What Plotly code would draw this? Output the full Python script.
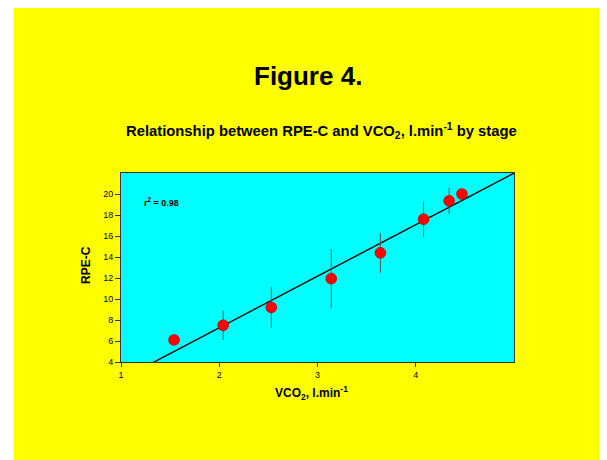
import plotly.graph_objects as go

# Data
vco2 = [1.54, 2.04, 2.53, 3.14, 3.64, 4.08, 4.34, 4.47]
rpe = [6.1, 7.5, 9.2, 11.95, 14.4, 17.6, 19.35, 20.0]
rpe_err = [0.0, 1.4, 1.95, 2.8, 1.9, 1.7, 1.25, 0.0]
slope = 4.91
intercept = -2.56
x_ticks = [1, 2, 3, 4]
y_ticks = [4, 6, 8, 10, 12, 14, 16, 18, 20]
x_range = [1, 5]
y_range = [4, 22]

W, H = 607, 460
# plot-area pixel box within the figure (the page adds an 8px body margin)
L, R, T, B = 113, 506, 165, 354
pw, ph = R - L, B - T

def px(x):
    return (x - L) / pw

def py(y):
    return (B - y) / ph

FONT = "Arial, Liberation Sans, sans-serif"

line_x = x_range
line_y = [slope * v + intercept for v in line_x]

fig = go.Figure()
fig.add_trace(go.Scatter(x=line_x, y=line_y, mode="lines",
                         line=dict(color="black", width=1.4), hoverinfo="skip"))
fig.add_trace(go.Scatter(
    x=vco2, y=rpe, mode="markers",
    marker=dict(size=11, color="#FF0000", line=dict(color="#B00000", width=0.5)),
    error_y=dict(type="data", array=rpe_err, visible=True, color="#555555",
                 thickness=1, width=0),
))

fig.update_layout(
    width=W, height=H,
    margin=dict(l=L, r=W - R, t=T, b=H - B),
    paper_bgcolor="#FFFF00",
    plot_bgcolor="#00FFFF",
    showlegend=False,
    font=dict(family=FONT, color="black", size=9),
    xaxis=dict(range=x_range, tickvals=x_ticks, ticks="outside", ticklen=4,
               tickcolor="#333", showgrid=False, zeroline=False,
               showline=True, linecolor="#333", linewidth=0.8, mirror=True,
               tickfont=dict(size=9)),
    yaxis=dict(range=y_range, tickvals=y_ticks, ticks="outside", ticklen=5,
               tickcolor="#333", showgrid=False, zeroline=False,
               showline=True, linecolor="#333", linewidth=0.8, mirror=True,
               tickfont=dict(size=9)),
    shapes=[
        dict(type="rect", xref="paper", yref="paper",
             x0=px(0), x1=px(6), y0=py(H), y1=py(0),
             fillcolor="white", line=dict(width=0)),
    ],
    annotations=[
        dict(text="<b>Figure 4.</b>", xref="paper", yref="paper",
             x=px(299.5), y=py(68), xanchor="center", yanchor="middle",
             showarrow=False, font=dict(size=26, family=FONT)),
        dict(text="<b>Relationship between RPE-C and VCO<sub>2</sub>, l.min<sup>-1</sup> by stage</b>",
             xref="paper", yref="paper",
             x=px(313.5), y=py(123), xanchor="center", yanchor="middle",
             showarrow=False, font=dict(size=14.8, family=FONT)),
        dict(text="<b>r<sup>2</sup> = 0.98</b>", xref="paper", yref="paper",
             x=px(134), y=py(193.5), xanchor="left", yanchor="middle",
             showarrow=False, font=dict(size=9, family=FONT)),
        dict(text="<b>RPE-C</b>", xref="paper", yref="paper",
             x=px(78), y=py(257), xanchor="center", yanchor="middle",
             textangle=-90, showarrow=False, font=dict(size=12, family=FONT)),
        dict(text="<b>VCO<sub>2</sub>, l.min<sup>-1</sup></b>", xref="paper", yref="paper",
             x=px(303), y=py(385), xanchor="center", yanchor="middle",
             showarrow=False, font=dict(size=12, family=FONT)),
    ],
)

fig.write_html("out.html")
